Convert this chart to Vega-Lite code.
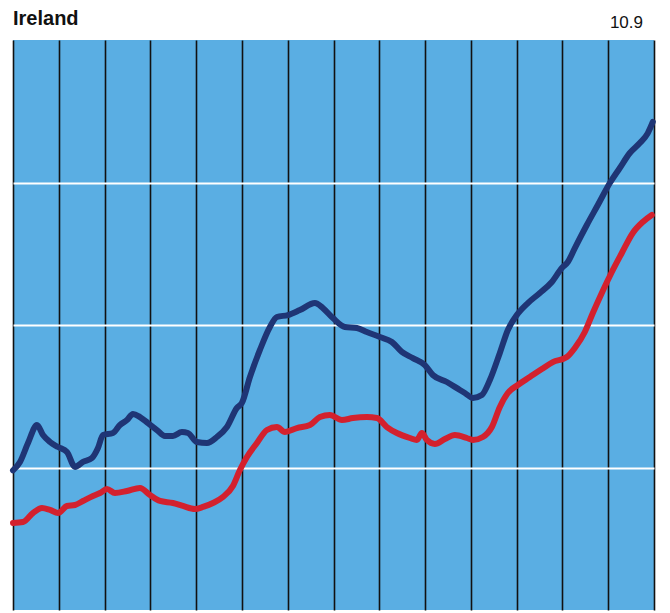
{
  "$schema": "https://vega.github.io/schema/vega-lite/v6.json",
  "width": 641,
  "height": 570,
  "autosize": {"type": "none"},
  "padding": {"left": 13, "top": 40, "right": 16, "bottom": 3},
  "background": "white",
  "config": {
    "view": {"fill": "#5aaee3", "stroke": null},
    "axis": {"domain": false, "ticks": false, "labels": false, "title": null}
  },
  "datasets": {
    "series": [
      {"s": "blue", "t": 0.0, "v": 0.98},
      {"s": "blue", "t": 0.153, "v": 1.039},
      {"s": "blue", "t": 0.328, "v": 1.172},
      {"s": "blue", "t": 0.524, "v": 1.298},
      {"s": "blue", "t": 0.655, "v": 1.228},
      {"s": "blue", "t": 0.808, "v": 1.179},
      {"s": "blue", "t": 0.983, "v": 1.144},
      {"s": "blue", "t": 1.179, "v": 1.109},
      {"s": "blue", "t": 1.354, "v": 1.004},
      {"s": "blue", "t": 1.528, "v": 1.039},
      {"s": "blue", "t": 1.725, "v": 1.067},
      {"s": "blue", "t": 1.856, "v": 1.137},
      {"s": "blue", "t": 1.965, "v": 1.228},
      {"s": "blue", "t": 2.183, "v": 1.242},
      {"s": "blue", "t": 2.336, "v": 1.298},
      {"s": "blue", "t": 2.489, "v": 1.333},
      {"s": "blue", "t": 2.62, "v": 1.375},
      {"s": "blue", "t": 2.773, "v": 1.354},
      {"s": "blue", "t": 2.948, "v": 1.312},
      {"s": "blue", "t": 3.144, "v": 1.263},
      {"s": "blue", "t": 3.319, "v": 1.221},
      {"s": "blue", "t": 3.493, "v": 1.221},
      {"s": "blue", "t": 3.69, "v": 1.249},
      {"s": "blue", "t": 3.821, "v": 1.242},
      {"s": "blue", "t": 4.017, "v": 1.179},
      {"s": "blue", "t": 4.236, "v": 1.172},
      {"s": "blue", "t": 4.454, "v": 1.214},
      {"s": "blue", "t": 4.672, "v": 1.284},
      {"s": "blue", "t": 4.891, "v": 1.418},
      {"s": "blue", "t": 5.0, "v": 1.453},
      {"s": "blue", "t": 5.175, "v": 1.635},
      {"s": "blue", "t": 5.393, "v": 1.825},
      {"s": "blue", "t": 5.611, "v": 1.986},
      {"s": "blue", "t": 5.764, "v": 2.056},
      {"s": "blue", "t": 6.004, "v": 2.07},
      {"s": "blue", "t": 6.266, "v": 2.105},
      {"s": "blue", "t": 6.594, "v": 2.154},
      {"s": "blue", "t": 6.769, "v": 2.119},
      {"s": "blue", "t": 6.987, "v": 2.049},
      {"s": "blue", "t": 7.249, "v": 1.986},
      {"s": "blue", "t": 7.511, "v": 1.979},
      {"s": "blue", "t": 7.729, "v": 1.951},
      {"s": "blue", "t": 8.013, "v": 1.916},
      {"s": "blue", "t": 8.275, "v": 1.881},
      {"s": "blue", "t": 8.493, "v": 1.811},
      {"s": "blue", "t": 8.734, "v": 1.768},
      {"s": "blue", "t": 8.996, "v": 1.719},
      {"s": "blue", "t": 9.17, "v": 1.649},
      {"s": "blue", "t": 9.476, "v": 1.6},
      {"s": "blue", "t": 9.76, "v": 1.544},
      {"s": "blue", "t": 9.869, "v": 1.523},
      {"s": "blue", "t": 10.044, "v": 1.488},
      {"s": "blue", "t": 10.24, "v": 1.509},
      {"s": "blue", "t": 10.415, "v": 1.614},
      {"s": "blue", "t": 10.633, "v": 1.804},
      {"s": "blue", "t": 10.808, "v": 1.965},
      {"s": "blue", "t": 11.004, "v": 2.07},
      {"s": "blue", "t": 11.245, "v": 2.154},
      {"s": "blue", "t": 11.507, "v": 2.225},
      {"s": "blue", "t": 11.769, "v": 2.302},
      {"s": "blue", "t": 11.987, "v": 2.4},
      {"s": "blue", "t": 12.118, "v": 2.442},
      {"s": "blue", "t": 12.271, "v": 2.54},
      {"s": "blue", "t": 12.533, "v": 2.702},
      {"s": "blue", "t": 12.773, "v": 2.842},
      {"s": "blue", "t": 13.035, "v": 2.996},
      {"s": "blue", "t": 13.253, "v": 3.102},
      {"s": "blue", "t": 13.472, "v": 3.207},
      {"s": "blue", "t": 13.69, "v": 3.277},
      {"s": "blue", "t": 13.865, "v": 3.347},
      {"s": "blue", "t": 13.974, "v": 3.425},
      {"s": "red", "t": 0.0, "v": 0.611},
      {"s": "red", "t": 0.218, "v": 0.618},
      {"s": "red", "t": 0.437, "v": 0.681},
      {"s": "red", "t": 0.633, "v": 0.716},
      {"s": "red", "t": 0.808, "v": 0.702},
      {"s": "red", "t": 0.983, "v": 0.681},
      {"s": "red", "t": 1.179, "v": 0.73},
      {"s": "red", "t": 1.354, "v": 0.737},
      {"s": "red", "t": 1.528, "v": 0.765},
      {"s": "red", "t": 1.747, "v": 0.8},
      {"s": "red", "t": 1.9, "v": 0.821},
      {"s": "red", "t": 2.052, "v": 0.849},
      {"s": "red", "t": 2.227, "v": 0.821},
      {"s": "red", "t": 2.489, "v": 0.835},
      {"s": "red", "t": 2.773, "v": 0.856},
      {"s": "red", "t": 2.991, "v": 0.807},
      {"s": "red", "t": 3.21, "v": 0.765},
      {"s": "red", "t": 3.493, "v": 0.751},
      {"s": "red", "t": 3.712, "v": 0.73},
      {"s": "red", "t": 3.974, "v": 0.709},
      {"s": "red", "t": 4.148, "v": 0.723},
      {"s": "red", "t": 4.367, "v": 0.751},
      {"s": "red", "t": 4.585, "v": 0.793},
      {"s": "red", "t": 4.803, "v": 0.87},
      {"s": "red", "t": 4.956, "v": 0.982},
      {"s": "red", "t": 5.109, "v": 1.074},
      {"s": "red", "t": 5.328, "v": 1.172},
      {"s": "red", "t": 5.546, "v": 1.263},
      {"s": "red", "t": 5.764, "v": 1.284},
      {"s": "red", "t": 5.939, "v": 1.249},
      {"s": "red", "t": 6.201, "v": 1.277},
      {"s": "red", "t": 6.485, "v": 1.298},
      {"s": "red", "t": 6.703, "v": 1.354},
      {"s": "red", "t": 6.921, "v": 1.368},
      {"s": "red", "t": 7.183, "v": 1.333},
      {"s": "red", "t": 7.424, "v": 1.347},
      {"s": "red", "t": 7.729, "v": 1.354},
      {"s": "red", "t": 7.948, "v": 1.347},
      {"s": "red", "t": 8.166, "v": 1.284},
      {"s": "red", "t": 8.384, "v": 1.242},
      {"s": "red", "t": 8.668, "v": 1.207},
      {"s": "red", "t": 8.821, "v": 1.193},
      {"s": "red", "t": 8.93, "v": 1.242},
      {"s": "red", "t": 9.039, "v": 1.193},
      {"s": "red", "t": 9.214, "v": 1.165},
      {"s": "red", "t": 9.432, "v": 1.2},
      {"s": "red", "t": 9.651, "v": 1.228},
      {"s": "red", "t": 9.913, "v": 1.207},
      {"s": "red", "t": 10.044, "v": 1.193},
      {"s": "red", "t": 10.262, "v": 1.214},
      {"s": "red", "t": 10.459, "v": 1.284},
      {"s": "red", "t": 10.633, "v": 1.425},
      {"s": "red", "t": 10.808, "v": 1.523},
      {"s": "red", "t": 11.026, "v": 1.579},
      {"s": "red", "t": 11.288, "v": 1.635},
      {"s": "red", "t": 11.55, "v": 1.691},
      {"s": "red", "t": 11.79, "v": 1.74},
      {"s": "red", "t": 12.096, "v": 1.775},
      {"s": "red", "t": 12.271, "v": 1.839},
      {"s": "red", "t": 12.489, "v": 1.951},
      {"s": "red", "t": 12.664, "v": 2.084},
      {"s": "red", "t": 12.86, "v": 2.225},
      {"s": "red", "t": 13.079, "v": 2.372},
      {"s": "red", "t": 13.297, "v": 2.505},
      {"s": "red", "t": 13.537, "v": 2.646},
      {"s": "red", "t": 13.755, "v": 2.723},
      {"s": "red", "t": 13.952, "v": 2.772}
    ],
    "labels": [
      {"label": "Ireland", "t": 0, "v": 4, "kind": "title"},
      {"label": "10.9", "t": 14, "v": 4, "kind": "value"}
    ]
  },
  "layer": [
    {
      "data": {"name": "series"},
      "mark": {"type": "line", "strokeWidth": 6, "strokeCap": "round", "strokeJoin": "round", "interpolate": "monotone"},
      "encoding": {
        "x": {
          "field": "t", "type": "quantitative",
          "scale": {"domain": [0, 14], "nice": false, "zero": false},
          "axis": {"values": [0,1,2,3,4,5,6,7,8,9,10,11,12,13,14], "grid": true, "gridColor": "#111111", "gridWidth": 1.6, "gridOpacity": 1}
        },
        "y": {
          "field": "v", "type": "quantitative",
          "scale": {"domain": [0, 4], "nice": false},
          "axis": {"values": [1, 2, 3], "grid": true, "gridColor": "#ffffff", "gridWidth": 2.2, "gridOpacity": 1}
        },
        "color": {
          "field": "s", "type": "nominal",
          "scale": {"domain": ["blue", "red"], "range": ["#1f3575", "#d3212e"]},
          "legend": null
        }
      }
    },
    {
      "data": {"name": "labels"},
      "transform": [{"filter": "datum.kind === 'title'"}],
      "mark": {"type": "text", "align": "left", "baseline": "alphabetic", "dy": -15, "font": "Liberation Sans", "fontSize": 20, "fontWeight": "bold", "color": "#111111"},
      "encoding": {
        "x": {"field": "t", "type": "quantitative"},
        "y": {"field": "v", "type": "quantitative"},
        "text": {"field": "label"}
      }
    },
    {
      "data": {"name": "labels"},
      "transform": [{"filter": "datum.kind === 'value'"}],
      "mark": {"type": "text", "align": "right", "baseline": "alphabetic", "dy": -12, "dx": -11, "font": "Liberation Sans", "fontSize": 17, "color": "#111111"},
      "encoding": {
        "x": {"field": "t", "type": "quantitative"},
        "y": {"field": "v", "type": "quantitative"},
        "text": {"field": "label"}
      }
    }
  ]
}
